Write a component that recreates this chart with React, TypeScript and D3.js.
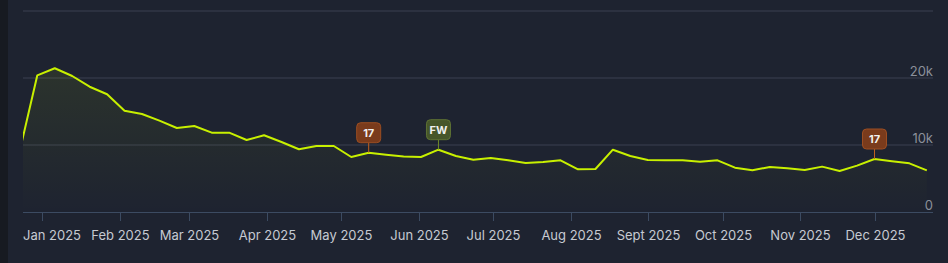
import React from "react";
import * as d3 from "d3";

const W = 948;
const H = 263;

// weekly dates (Mondays) starting Dec 23 2024
const startDate = "2024-12-23";
const values = [
  9200, 20400, 21450, 20300, 18700, 17570, 15120, 14630, 13630, 12540,
  12840, 11840, 11840, 10750, 11450, 10450, 9360, 9850, 9850, 8210,
  8850, 8550, 8300, 8210, 9300, 8360, 7810, 8060, 7710, 7310,
  7460, 7710, 6370, 6420, 9300, 8350, 7760, 7710, 7710, 7510,
  7710, 6620, 6220, 6720, 6520, 6270, 6770, 6120, 6920, 7910,
  7560, 7260, 6220,
];
const markers = [
  { date: "2025-05-12", label: "17", kind: "orange" },
  { date: "2025-06-09", label: "FW", kind: "green" },
  { date: "2025-12-01", label: "17", kind: "orange" },
];
const monthTicks = [
  "2025-01-01", "2025-02-01", "2025-03-01", "2025-04-01", "2025-05-01", "2025-06-01",
  "2025-07-01", "2025-08-01", "2025-09-01", "2025-10-01", "2025-11-01", "2025-12-01",
];
const monthLabels = [
  "Jan 2025", "Feb 2025", "Mar 2025", "Apr 2025", "May 2025", "Jun 2025",
  "Jul 2025", "Aug 2025", "Sept 2025", "Oct 2025", "Nov 2025", "Dec 2025",
];
const yTicks = [0, 10000, 20000, 30000];
const yLabels = ["0", "10k", "20k", ""];

const parse = d3.utcParse("%Y-%m-%d");

export default function App() {
  const plotL = 23;
  const plotR = 933;
  const x = d3
    .scaleUtc()
    .domain([parse("2025-01-01")!, parse("2025-12-01")!])
    .range([42.3, 874.5]);
  const y = d3.scaleLinear().domain([0, 30000]).range([212, 11]);

  const start = parse(startDate)!;
  const data = values.map((v, i) => ({ d: d3.utcDay.offset(start, i * 7), v }));

  const line = d3
    .line<{ d: Date; v: number }>()
    .x((p) => x(p.d))
    .y((p) => y(p.v));
  const area = d3
    .area<{ d: Date; v: number }>()
    .x((p) => x(p.d))
    .y0(y(0))
    .y1((p) => y(p.v));

  const font = "Inter, 'Noto Sans', sans-serif";

  return (
    <svg
      width={W}
      height={H}
      style={{ position: "absolute", left: 0, top: 0, display: "block" }}
    >
      <defs>
        <clipPath id="plotclip">
          <rect x={plotL} y={0} width={plotR - plotL} height={213} />
        </clipPath>
        <linearGradient id="areagrad" x1="0" y1="0" x2="0" y2="1">
          <stop offset="0%" stopColor="#c8f000" stopOpacity={0.08} />
          <stop offset="100%" stopColor="#c8f000" stopOpacity={0} />
        </linearGradient>
      </defs>
      <rect x={0} y={0} width={W} height={H} fill="#1e2330" />
      <rect x={0} y={0} width={8} height={H} fill="#171a21" />

      {yTicks.map((t, i) =>
        t === 0 ? null : (
          <line
            key={"g" + i}
            x1={plotL}
            x2={plotR}
            y1={y(t)}
            y2={y(t)}
            stroke="#3a4150"
            strokeWidth={1}
          />
        )
      )}

      <g clipPath="url(#plotclip)">
        <path d={area(data)!} fill="url(#areagrad)" />
        <path
          d={line(data)!}
          fill="none"
          stroke="#c8f000"
          strokeWidth={2}
          strokeLinejoin="round"
        />
      </g>

      {/* x axis */}
      <line x1={plotL} x2={plotR} y1={212.5} y2={212.5} stroke="#3c4b62" strokeWidth={1} />
      {monthTicks.map((m, i) => {
        const xx = Math.round(x(parse(m)!)) + 0.5;
        const first = i === 0;
        return (
          <g key={"t" + i}>
            <line x1={xx} x2={xx} y1={212} y2={221} stroke="#3c4b62" strokeWidth={1} />
            <text
              x={first ? plotL : xx}
              y={240}
              textAnchor={first ? "start" : "middle"}
              fill="#c6cad2"
              fontSize={13}
              fontFamily={font}
            >
              {monthLabels[i]}
            </text>
          </g>
        );
      })}

      {/* y labels */}
      {yTicks.map((t, i) => (
        <text
          key={"yl" + i}
          x={plotR}
          y={y(t) - 2}
          textAnchor="end"
          fill="#8b909a"
          fontSize={13}
          fontFamily={font}
        >
          {yLabels[i]}
        </text>
      ))}

      {/* markers */}
      {markers.map((mk, i) => {
        const dd = parse(mk.date)!;
        const pt = data.find((p) => +p.d === +dd)!;
        const px = x(dd);
        const py = y(pt.v);
        const bottom = py - 10;
        const orange = mk.kind === "orange";
        return (
          <g key={"m" + i}>
            <line
              x1={px}
              x2={px}
              y1={bottom}
              y2={py}
              stroke={orange ? "#c0601e" : "#6f8a2a"}
              strokeWidth={1}
            />
            <rect
              x={px - 12}
              y={bottom - 20}
              width={24}
              height={20}
              rx={4}
              fill={orange ? "#7a3b1c" : "#46562a"}
              stroke={orange ? "#9c4e22" : "#5e7234"}
              strokeWidth={1}
            />
            <text
              x={px}
              y={bottom - 6}
              textAnchor="middle"
              fill="#f0f0f0"
              fontSize={11}
              fontWeight={700}
              fontFamily={font}
            >
              {mk.label}
            </text>
          </g>
        );
      })}
    </svg>
  );
}
